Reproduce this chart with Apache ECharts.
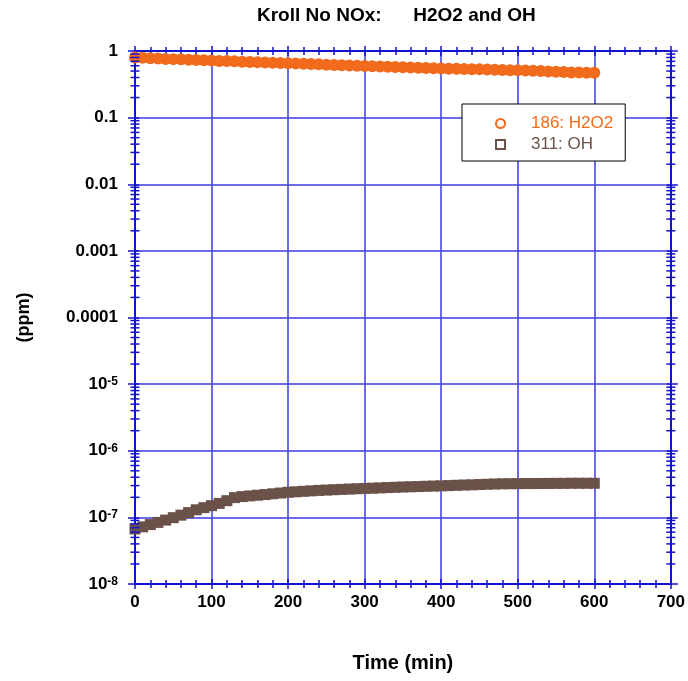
<!DOCTYPE html>
<html>
<head>
<meta charset="utf-8">
<script src="https://cdn.jsdelivr.net/npm/echarts@6/dist/echarts.min.js"></script>
<style>
  html, body { margin: 0; padding: 0; background: #fff; }
  #chart { width: 688px; height: 681px; }
</style>
</head>
<body>
<div id="chart"></div>
<script>
// ---- data ----
const timeMin = [0, 10, 20, 30, 40, 50, 60, 70, 80, 90,
  100, 110, 120, 130, 140, 150, 160, 170, 180, 190,
  200, 210, 220, 230, 240, 250, 260, 270, 280, 290,
  300, 310, 320, 330, 340, 350, 360, 370, 380, 390,
  400, 410, 420, 430, 440, 450, 460, 470, 480, 490,
  500, 510, 520, 530, 540, 550, 560, 570, 580, 590, 600];

const h2o2Ppm = [0.80, 0.79, 0.78, 0.77, 0.76, 0.755, 0.75, 0.74, 0.73, 0.725,
  0.72, 0.71, 0.705, 0.70, 0.69, 0.685, 0.68, 0.672, 0.665, 0.66,
  0.654, 0.648, 0.642, 0.636, 0.63, 0.624, 0.618, 0.612, 0.607, 0.60,
  0.595, 0.59, 0.585, 0.58, 0.575, 0.57, 0.565, 0.56, 0.555, 0.55,
  0.546, 0.543, 0.54, 0.536, 0.533, 0.53, 0.527, 0.524, 0.52, 0.516,
  0.512, 0.508, 0.504, 0.50, 0.494, 0.488, 0.482, 0.477, 0.474, 0.472, 0.47];

const ohPpm = [6.7e-8, 7.2e-8, 7.8e-8, 8.4e-8, 9.1e-8, 9.9e-8, 1.08e-7, 1.18e-7, 1.30e-7, 1.40e-7,
  1.50e-7, 1.62e-7, 1.78e-7, 1.98e-7, 2.05e-7, 2.10e-7, 2.15e-7, 2.20e-7, 2.26e-7, 2.32e-7,
  2.38e-7, 2.42e-7, 2.46e-7, 2.50e-7, 2.54e-7, 2.57e-7, 2.60e-7, 2.63e-7, 2.66e-7, 2.69e-7,
  2.72e-7, 2.74e-7, 2.77e-7, 2.80e-7, 2.83e-7, 2.86e-7, 2.88e-7, 2.90e-7, 2.93e-7, 2.95e-7,
  2.97e-7, 3.00e-7, 3.03e-7, 3.06e-7, 3.08e-7, 3.11e-7, 3.14e-7, 3.17e-7, 3.19e-7, 3.20e-7,
  3.21e-7, 3.22e-7, 3.22e-7, 3.23e-7, 3.23e-7, 3.24e-7, 3.24e-7, 3.25e-7, 3.25e-7, 3.25e-7, 3.25e-7];

const seriesNames = ['186: H2O2', '311: OH'];
const xTickLabels = ['0', '100', '200', '300', '400', '500', '600', '700'];
// y tick labels indexed by -exponent (10^0 ... 10^-8)
const yTickLabels = ['1', '0.1', '0.01', '0.001', '0.0001',
  '{b|10}{s|-5}', '{b|10}{s|-6}', '{b|10}{s|-7}', '{b|10}{s|-8}'];
const yDecades = [1e-8, 1e-7, 1e-6, 1e-5, 1e-4, 1e-3, 1e-2, 1e-1];
const yMinorMultipliers = [2, 3, 4, 5, 6, 7, 8, 9];

// ---- styling ----
const FONT = '"Liberation Sans", Arial, Helvetica, sans-serif';
const axisBlue = '#1212d0';
const gridBlue = 'rgba(70, 70, 225, 0.8)';
const orange = '#f26b1c';
const brown = '#6b5249';

const minorTickPoints = [];
[0, 700].forEach(x => {
  yDecades.forEach(d => yMinorMultipliers.forEach(m => minorTickPoints.push([x, d * m])));
});

function xAxisDef(position, inside, main) {
  return {
    type: 'value', position, min: 0, max: 700, interval: 100,
    axisLine: { show: true, onZero: false, lineStyle: { color: axisBlue, width: 2 } },
    axisTick: { show: true, inside, length: 5, lineStyle: { color: axisBlue, width: 1.5 } },
    minorTick: { show: true, splitNumber: 5, length: 4, lineStyle: { color: axisBlue, width: 1.5 } },
    axisLabel: main ? {
      show: true, margin: 10, fontSize: 17, fontWeight: 'bold', color: '#000', fontFamily: FONT,
      formatter: v => xTickLabels[Math.round(v / 100)]
    } : { show: false },
    splitLine: { show: main, lineStyle: { color: gridBlue, width: 2 } },
    minorSplitLine: { show: false },
    name: main ? 'Time (min)' : '',
    nameLocation: 'middle', nameGap: 69,
    nameTextStyle: { fontSize: 20, fontWeight: 'bold', color: '#000', fontFamily: FONT }
  };
}

function yAxisDef(position, inside, main) {
  return {
    type: 'log', logBase: 10, position, min: 1e-8, max: 1, splitNumber: 8,
    axisLine: { show: true, onZero: false, lineStyle: { color: axisBlue, width: 2 } },
    axisTick: { show: true, inside, length: inside ? 4 : 7, lineStyle: { color: axisBlue, width: 1.5 } },
    axisLabel: main ? {
      show: true, margin: 17, fontSize: 17, fontWeight: 'bold', color: '#000', fontFamily: FONT,
      formatter: v => yTickLabels[-Math.round(Math.log10(v))],
      rich: {
        b: { fontSize: 17, fontWeight: 'bold', color: '#000', fontFamily: FONT, lineHeight: 17, verticalAlign: 'middle' },
        s: { fontSize: 12, fontWeight: 'bold', color: '#000', fontFamily: FONT, lineHeight: 12, verticalAlign: 'top', padding: [0, 0, 16, 0] }
      }
    } : { show: false },
    splitLine: { show: main, lineStyle: { color: gridBlue, width: 2 } },
    name: main ? '(ppm)' : '',
    nameLocation: 'middle', nameGap: 102,
    nameTextStyle: { fontSize: 18, fontWeight: 'bold', color: '#000', fontFamily: FONT }
  };
}

const chart = echarts.init(document.getElementById('chart'), null, { renderer: 'canvas' });
chart.setOption({
  backgroundColor: '#fff',
  animation: false,
  title: {
    text: 'Kroll No NOx:      H2O2 and OH',
    left: 252, top: 1,
    textStyle: { fontSize: 19, fontWeight: 'bold', color: '#000', fontFamily: FONT }
  },
  grid: { left: 135, right: 17, top: 51, bottom: 97 },
  xAxis: [
    xAxisDef('bottom', false, true),
    xAxisDef('bottom', true, false),
    xAxisDef('top', false, false),
    xAxisDef('top', true, false)
  ],
  yAxis: [
    yAxisDef('left', false, true),
    yAxisDef('left', true, false),
    yAxisDef('right', false, false),
    yAxisDef('right', true, false)
  ],
  legend: {
    orient: 'vertical', left: 462, top: 104,
    padding: [11, 12, 8, 33],
    borderColor: '#000', borderWidth: 1, backgroundColor: '#fff',
    itemWidth: 9, itemHeight: 9, itemGap: 4,
    selectedMode: false,
    textStyle: { fontSize: 17, fontFamily: FONT, lineHeight: 17, padding: [0, 0, 0, 21] },
    data: [
      { name: seriesNames[0], icon: 'emptyCircle', textStyle: { color: orange } },
      { name: seriesNames[1], icon: 'emptyRect', textStyle: { color: brown } }
    ]
  },
  series: [
    {
      name: seriesNames[0], type: 'scatter', xAxisIndex: 0, yAxisIndex: 0,
      symbol: 'circle', symbolSize: 12, clip: false,
      itemStyle: { color: orange, opacity: 1 },
      data: timeMin.map((t, i) => [t, h2o2Ppm[i]]), z: 3
    },
    {
      name: seriesNames[1], type: 'scatter', xAxisIndex: 0, yAxisIndex: 0,
      symbol: 'rect', symbolSize: 11, clip: false,
      itemStyle: { color: brown, opacity: 1 },
      data: timeMin.map((t, i) => [t, ohPpm[i]]), z: 3
    },
    {
      name: 'yMinorTicks', type: 'scatter', xAxisIndex: 0, yAxisIndex: 0,
      symbol: 'rect', symbolSize: [9, 1.5], clip: false, silent: true,
      itemStyle: { color: axisBlue, opacity: 1 },
      data: minorTickPoints, z: 4
    }
  ]
});
</script>
</body>
</html>
